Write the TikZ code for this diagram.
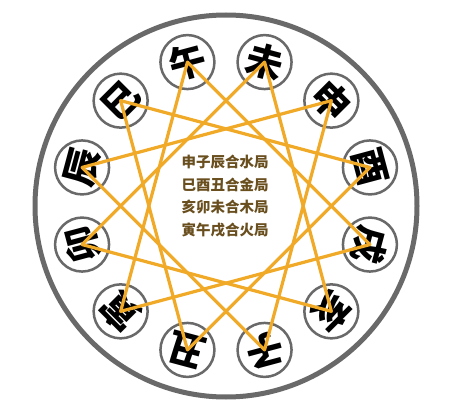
\documentclass[tikz,border=0pt]{standalone}
\usepackage{fontspec}
\newfontfamily\cjk{Noto Sans CJK SC}
\definecolor{ringgray}{RGB}{105,105,105}
\definecolor{starorange}{RGB}{240,170,40}
\definecolor{txtbrown}{RGB}{105,78,30}
\tikzset{
  smallring/.style={circle, draw=ringgray, line width=2.5pt, fill=white, minimum size=54pt, inner sep=0pt},
  branch/.style={font=\cjk\bfseries\fontsize{37}{37}\selectfont, text=black, inner sep=0pt},
  starline/.style={draw=starorange, line width=3.2pt, line join=round},
  centertext/.style={font=\cjk\bfseries\fontsize{14.5}{22.7}\selectfont, text=txtbrown, align=center}
}
\begin{document}
\begin{tikzpicture}[x=1pt,y=-1pt]
\useasboundingbox (0,0) rectangle (450,417);
\fill[white] (0,0) rectangle (450,417);
\coordinate (C) at (226,206);
\node[circle, draw=ringgray, line width=5pt, minimum size=382pt, inner sep=0pt] (outer) at (C) {};
\foreach \nm/\ch/\ang in {wei/未/75, shen/申/45, you/酉/15, xu/戌/-15, hai/亥/-45, zi/子/-75, chou/丑/-105, yin/寅/-135, mao/卯/-165, chen/辰/165, si/巳/135, wu/午/105}{
  \node[smallring] (\nm) at ([shift={(\ang:149pt)}]C) {};
  \node[branch, rotate=\ang-90] (\nm t) at (\nm) {\ch};
}
\draw[starline] (shen.center) -- (zi.center) -- (chen.center) -- cycle;
\draw[starline] (si.center) -- (you.center) -- (chou.center) -- cycle;
\draw[starline] (hai.center) -- (mao.center) -- (wei.center) -- cycle;
\draw[starline] (yin.center) -- (wu.center) -- (xu.center) -- cycle;
\node[centertext] (label) at (225,196) {申子辰合水局\\巳酉丑合金局\\亥卯未合木局\\寅午戌合火局};
\end{tikzpicture}
\end{document}
